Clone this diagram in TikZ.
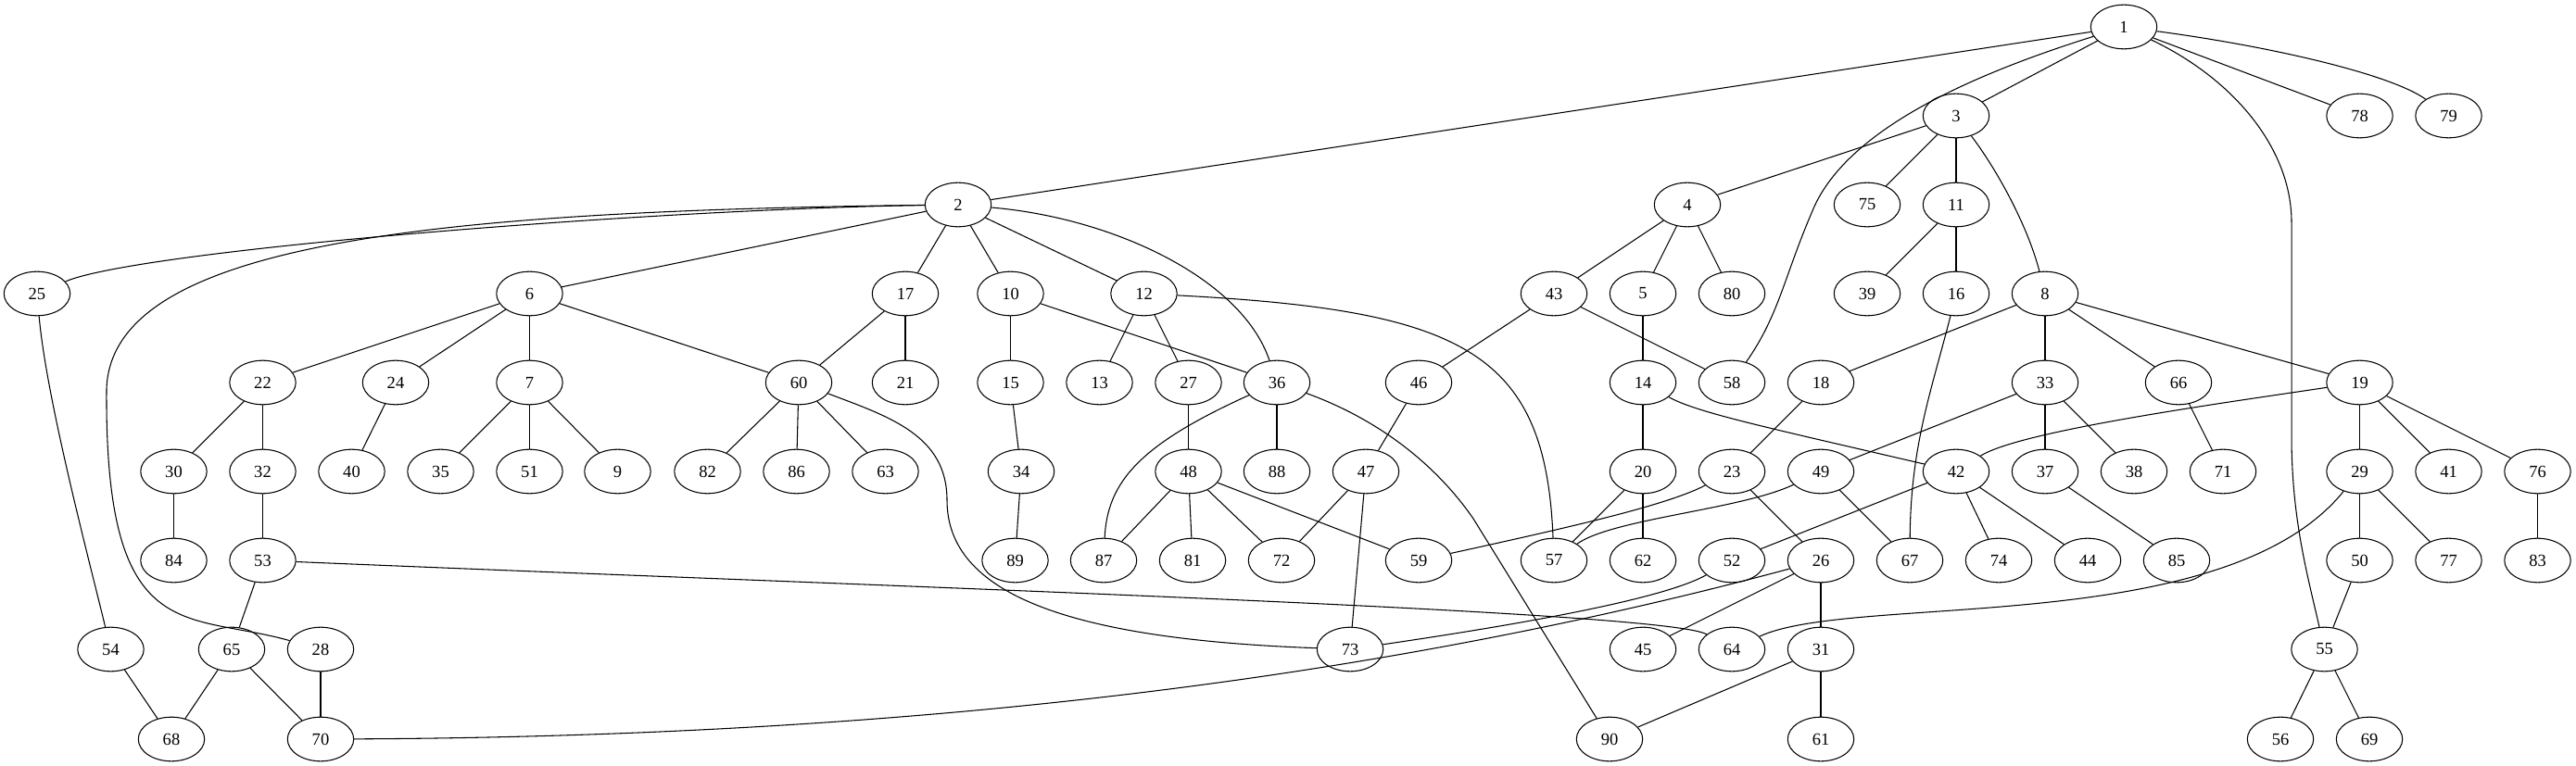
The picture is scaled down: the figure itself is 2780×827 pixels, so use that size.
\documentclass[tikz,border=0pt]{standalone}
\usepackage{fontspec}
\setmainfont{Liberation Serif}
\usetikzlibrary{shapes.geometric}
\begin{document}
\begin{tikzpicture}[x=0.756pt,y=0.756pt,
  nd/.style={draw,ellipse,line width=0.8pt,minimum width=54pt,minimum height=36pt,inner sep=0pt,font=\fontsize{14}{16}\selectfont},
  ln/.style={line width=0.8pt}]
\useasboundingbox (0,0) rectangle (2780,-827);
% rank 0
\node[nd] (n1) at (2292,-29) {1};
% rank 1
\node[nd] (n3) at (2111,-125) {3};
\node[nd] (n78) at (2546.5,-125) {78};
\node[nd] (n79) at (2642.5,-125) {79};
% rank 2
\node[nd] (n2) at (1034,-221) {2};
\node[nd] (n4) at (1821,-221) {4};
\node[nd] (n75) at (2015,-221) {75};
\node[nd] (n11) at (2111,-221) {11};
% rank 3
\node[nd] (n25) at (40,-317) {25};
\node[nd] (n6) at (571.5,-317) {6};
\node[nd] (n17) at (977,-317) {17};
\node[nd] (n10) at (1090.5,-317) {10};
\node[nd] (n12) at (1234.5,-317) {12};
\node[nd] (n43) at (1677,-317) {43};
\node[nd] (n5) at (1773,-317) {5};
\node[nd] (n80) at (1869,-317) {80};
\node[nd] (n39) at (2015,-317) {39};
\node[nd] (n16) at (2111,-317) {16};
\node[nd] (n8) at (2207,-317) {8};
% rank 4
\node[nd] (n22) at (283.5,-413) {22};
\node[nd] (n24) at (427,-413) {24};
\node[nd] (n7) at (571.5,-413) {7};
\node[nd] (n60) at (862,-413) {60};
\node[nd] (n21) at (977,-413) {21};
\node[nd] (n15) at (1090.5,-413) {15};
\node[nd] (n13) at (1186.5,-413) {13};
\node[nd] (n27) at (1282.5,-413) {27};
\node[nd] (n36) at (1378,-413) {36};
\node[nd] (n46) at (1531,-413) {46};
\node[nd] (n14) at (1773,-413) {14};
\node[nd] (n58) at (1869,-413) {58};
\node[nd] (n18) at (1965,-413) {18};
\node[nd] (n33) at (2207,-413) {33};
\node[nd] (n66) at (2351,-413) {66};
\node[nd] (n19) at (2546.5,-413) {19};
% rank 5
\node[nd] (n30) at (187.5,-509) {30};
\node[nd] (n32) at (283.5,-509) {32};
\node[nd] (n40) at (379.5,-509) {40};
\node[nd] (n35) at (475.5,-509) {35};
\node[nd] (n51) at (571.5,-509) {51};
\node[nd] (n9) at (666.5,-509) {9};
\node[nd] (n82) at (763.5,-509) {82};
\node[nd] (n86) at (859.5,-509) {86};
\node[nd] (n63) at (955.5,-509) {63};
\node[nd] (n34) at (1102,-509) {34};
\node[nd] (n48) at (1282.5,-509) {48};
\node[nd] (n88) at (1378,-509) {88};
\node[nd] (n47) at (1474,-509) {47};
\node[nd] (n20) at (1773,-509) {20};
\node[nd] (n23) at (1869,-509) {23};
\node[nd] (n49) at (1965,-509) {49};
\node[nd] (n42) at (2111,-509) {42};
\node[nd] (n37) at (2207,-509) {37};
\node[nd] (n38) at (2303,-509) {38};
\node[nd] (n71) at (2399,-509) {71};
\node[nd] (n29) at (2546.5,-509) {29};
\node[nd] (n41) at (2642.5,-509) {41};
\node[nd] (n76) at (2738.5,-509) {76};
% rank 6
\node[nd] (n84) at (187.5,-605) {84};
\node[nd] (n53) at (283.5,-605) {53};
\node[nd] (n89) at (1095.5,-605) {89};
\node[nd] (n87) at (1191,-605) {87};
\node[nd] (n81) at (1287,-605) {81};
\node[nd] (n72) at (1383,-605) {72};
\node[nd] (n59) at (1531,-605) {59};
\node[nd] (n57) at (1677,-605) {57};
\node[nd] (n62) at (1773,-605) {62};
\node[nd] (n52) at (1869,-605) {52};
\node[nd] (n26) at (1965,-605) {26};
\node[nd] (n67) at (2061,-605) {67};
\node[nd] (n74) at (2157,-605) {74};
\node[nd] (n44) at (2253,-605) {44};
\node[nd] (n85) at (2349,-605) {85};
\node[nd] (n50) at (2546.5,-605) {50};
\node[nd] (n77) at (2642.5,-605) {77};
\node[nd] (n83) at (2738.5,-605) {83};
% rank 7
\node[nd] (n54) at (119.5,-701) {54};
\node[nd] (n65) at (250,-701) {65};
\node[nd] (n28) at (346,-701) {28};
\node[nd] (n73) at (1457,-701) {73};
\node[nd] (n45) at (1773,-701) {45};
\node[nd] (n64) at (1869,-701) {64};
\node[nd] (n31) at (1965,-701) {31};
\node[nd] (n55) at (2508.5,-701) {55};
% rank 8
\node[nd] (n68) at (185,-798) {68};
\node[nd] (n70) at (346,-798) {70};
\node[nd] (n90) at (1737,-798) {90};
\node[nd] (n61) at (1965,-798) {61};
\node[nd] (n56) at (2461,-798) {56};
\node[nd] (n69) at (2557,-798) {69};
% straight edges
\foreach \a/\b in {1/2,1/3,1/78,3/4,3/75,3/11,11/39,11/16,8/18,8/33,8/66,8/19,19/29,19/41,19/76,29/50,29/77,50/55,55/56,55/69,76/83,66/71,33/49,33/37,33/38,37/85,42/52,42/74,42/44,4/43,4/5,4/80,43/46,43/58,5/14,14/20,20/57,20/62,18/23,23/26,49/67,26/45,26/31,31/90,31/61,46/47,47/72,47/73,36/88,12/13,12/27,27/48,48/87,48/81,48/72,48/59,10/15,10/36,15/34,34/89,17/60,17/21,2/6,2/17,2/10,2/12,6/22,6/24,6/7,6/60,60/82,60/86,60/63,7/35,7/51,7/9,22/30,22/32,24/40,30/84,32/53,53/65,65/68,65/70,54/68,28/70}
  \draw[ln] (n\a) -- (n\b);
% curved edges
\draw[ln] (n2) .. controls (700,-226) and (150,-270) .. (n25);
\draw[ln] (n2) .. controls (450,-228) and (120,-265) .. (115,-420) .. controls (113,-700) and (200,-660) .. (n28);
\draw[ln] (n2) .. controls (1200,-235) and (1340,-300) .. (n36);
\draw[ln] (n12) .. controls (1580,-335) and (1668,-380) .. (n57);
\draw[ln] (n1) .. controls (2130,-80) and (1990,-140) .. (1955,-230) .. controls (1925,-300) and (1920,-340) .. (n58);
\draw[ln] (n1) .. controls (2410,-85) and (2473,-160) .. (2473,-240) -- (2473,-470) .. controls (2473,-560) and (2490,-620) .. (n55);
\draw[ln] (n1) .. controls (2450,-50) and (2580,-80) .. (n79);
\draw[ln] (n3) .. controls (2160,-190) and (2190,-250) .. (n8);
\draw[ln] (n16) .. controls (2085,-420) and (2062,-480) .. (n67);
\draw[ln] (n14) .. controls (1830,-445) and (1900,-460) .. (n42);
\draw[ln] (n29) .. controls (2400,-690) and (2000,-640) .. (n64);
\draw[ln] (n70) .. controls (1000,-795) and (1500,-730) .. (n26);
\draw[ln] (n53) .. controls (1000,-635) and (1800,-660) .. (n64);
\draw[ln] (n60) .. controls (960,-450) and (1022,-470) .. (1022,-540) .. controls (1022,-640) and (1150,-690) .. (n73);
\draw[ln] (n36) .. controls (1480,-450) and (1545,-495) .. (1590,-560) -- (n90);
\draw[ln] (n36) .. controls (1230,-480) and (1195,-520) .. (n87);
\draw[ln] (n23) .. controls (1800,-545) and (1700,-568) .. (n59);
\draw[ln] (n49) .. controls (1880,-550) and (1740,-560) .. (n57);
\draw[ln] (n52) .. controls (1790,-650) and (1600,-680) .. (n73);
\draw[ln] (n19) .. controls (2400,-435) and (2180,-465) .. (n42);
\draw[ln] (n25) .. controls (50,-430) and (95,-600) .. (n54);
\end{tikzpicture}
\end{document}
